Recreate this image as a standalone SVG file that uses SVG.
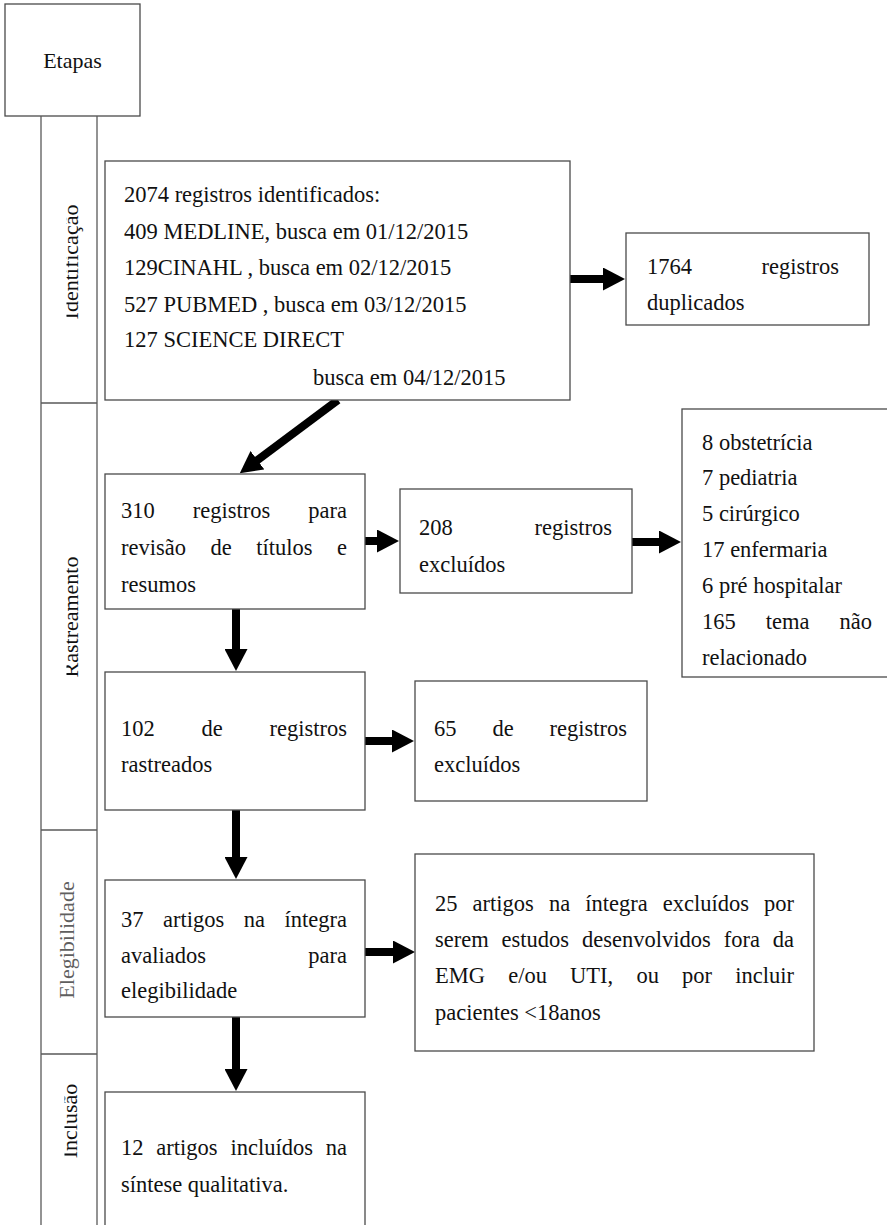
<svg xmlns="http://www.w3.org/2000/svg" width="887" height="1225" viewBox="0 0 887 1225">
<style>
.box{fill:#fff;stroke:#4a4a4a;stroke-width:1.3}
.col{fill:none;stroke:#5a5a5a;stroke-width:1.3}
.t{font-family:"Liberation Serif","Times New Roman",serif;font-size:22.5px;fill:#111}
.v{font-family:"Liberation Serif","Times New Roman",serif;font-size:22px;fill:#111}
.arr{stroke:#000;stroke-width:8;fill:none}
.e{text-anchor:end}
</style>
<defs>
<marker id="ah" viewBox="0 0 22 23" refX="1" refY="11.5" markerWidth="22" markerHeight="23" markerUnits="userSpaceOnUse" orient="auto">
<path d="M0,0 L22,11.5 L0,23 Z" fill="#000"/>
</marker>
<clipPath id="vc"><rect x="66.5" y="116" width="30" height="1109"/></clipPath>
<clipPath id="vc2"><rect x="64.5" y="116" width="32" height="1109"/></clipPath>
</defs>

<g id="etapas">
<rect class="box" x="5" y="4" width="135" height="112"/>
<text class="v" x="72.5" y="68" text-anchor="middle">Etapas</text>
</g>

<g id="stages">
<path class="col" d="M41,116 V1225 M97,116 V1225 M41,403 H97 M41,830 H97 M41,1054 H97"/>
<g clip-path="url(#vc)">
<text class="v" transform="translate(78,262) rotate(-90)" text-anchor="middle">Identificação</text>
<text class="v" transform="translate(78,617) rotate(-90)" text-anchor="middle">Rastreamento</text>
</g>
<g clip-path="url(#vc2)">
<text class="v" transform="translate(77,1121) rotate(-90)" text-anchor="middle">Inclusão</text>
</g>
<text class="v" transform="translate(73.5,940) rotate(-90)" text-anchor="middle" style="fill:#5f5f5f">Elegibilidade</text>
</g>

<g id="connectors">
<line class="arr" x1="570" y1="279" x2="604" y2="279" marker-end="url(#ah)"/>
<line class="arr" x1="338" y1="400" x2="256.6" y2="460.8" marker-end="url(#ah)"/>
<line class="arr" x1="365" y1="541" x2="378" y2="541" marker-end="url(#ah)"/>
<line class="arr" x1="632" y1="542" x2="660" y2="542" marker-end="url(#ah)"/>
<line class="arr" x1="236" y1="609" x2="236" y2="650" marker-end="url(#ah)"/>
<line class="arr" x1="365" y1="741" x2="393" y2="741" marker-end="url(#ah)"/>
<line class="arr" x1="236" y1="810" x2="236" y2="858" marker-end="url(#ah)"/>
<line class="arr" x1="365" y1="952" x2="394" y2="952" marker-end="url(#ah)"/>
<line class="arr" x1="236" y1="1017" x2="236" y2="1070" marker-end="url(#ah)"/>
</g>

<g id="n-identificados">
<rect class="box" x="105" y="161" width="465" height="239"/>
<text class="t" x="124" y="202">2074 registros identificados:</text>
<text class="t" x="124" y="239">409 MEDLINE, busca em 01/12/2015</text>
<text class="t" x="124" y="275">129CINAHL , busca em 02/12/2015</text>
<text class="t" x="124" y="312">527 PUBMED , busca em 03/12/2015</text>
<text class="t" x="124" y="347">127 SCIENCE DIRECT</text>
<text class="t" x="313" y="385">busca em 04/12/2015</text>
</g>

<g id="n-duplicados">
<rect class="box" x="626" y="233" width="243" height="92"/>
<text class="t" y="274"><tspan x="647">1764</tspan><tspan class="e" x="839">registros</tspan></text>
<text class="t" x="647" y="310">duplicados</text>
</g>

<g id="n-revisao">
<rect class="box" x="105" y="474" width="260" height="135"/>
<text class="t" y="518"><tspan x="121">310</tspan><tspan x="192.8">registros</tspan><tspan class="e" x="347">para</tspan></text>
<text class="t" y="555"><tspan x="121">revisão</tspan><tspan x="210.5">de</tspan><tspan x="256.2">títulos</tspan><tspan class="e" x="347">e</tspan></text>
<text class="t" x="121" y="592">resumos</text>
</g>

<g id="n-excluidos208">
<rect class="box" x="400" y="489" width="232" height="104"/>
<text class="t" y="535"><tspan x="419">208</tspan><tspan class="e" x="612">registros</tspan></text>
<text class="t" x="419" y="572">excluídos</text>
</g>

<g id="n-categorias">
<rect class="box" x="682" y="409" width="212" height="268"/>
<text class="t" x="702" y="450">8 obstetrícia</text>
<text class="t" x="702" y="485">7 pediatria</text>
<text class="t" x="702" y="521">5 cirúrgico</text>
<text class="t" x="702" y="557">17 enfermaria</text>
<text class="t" x="702" y="593">6 pré hospitalar</text>
<text class="t" y="629"><tspan x="702">165</tspan><tspan x="765.8">tema</tspan><tspan class="e" x="872">não</tspan></text>
<text class="t" x="702" y="665">relacionado</text>
</g>

<g id="n-rastreados">
<rect class="box" x="105" y="672" width="260" height="138"/>
<text class="t" y="736"><tspan x="121">102</tspan><tspan x="201.5">de</tspan><tspan class="e" x="347">registros</tspan></text>
<text class="t" x="121" y="772">rastreados</text>
</g>

<g id="n-excluidos65">
<rect class="box" x="415" y="681" width="232" height="120"/>
<text class="t" y="736"><tspan x="434">65</tspan><tspan x="492.4">de</tspan><tspan class="e" x="627">registros</tspan></text>
<text class="t" x="434" y="772">excluídos</text>
</g>

<g id="n-elegibilidade">
<rect class="box" x="105" y="880" width="260" height="137"/>
<text class="t" y="927"><tspan x="121">37</tspan><tspan x="163">artigos</tspan><tspan x="243.8">na</tspan><tspan class="e" x="347">íntegra</tspan></text>
<text class="t" y="963"><tspan x="121">avaliados</tspan><tspan class="e" x="347">para</tspan></text>
<text class="t" x="121" y="998">elegibilidade</text>
</g>

<g id="n-excluidos25">
<rect class="box" x="415" y="854" width="399" height="197"/>
<text class="t" y="911"><tspan x="435">25</tspan><tspan x="472.6">artigos</tspan><tspan x="548.9">na</tspan><tspan x="585.2">íntegra</tspan><tspan x="662.7">excluídos</tspan><tspan class="e" x="794">por</tspan></text>
<text class="t" y="947"><tspan x="435">serem</tspan><tspan x="501.6">estudos</tspan><tspan x="582">desenvolvidos</tspan><tspan x="723.7">fora</tspan><tspan class="e" x="794">da</tspan></text>
<text class="t" y="983"><tspan x="435">EMG</tspan><tspan x="508.2">e/ou</tspan><tspan x="570.1">UTI,</tspan><tspan x="636.4">ou</tspan><tspan x="682.1">por</tspan><tspan class="e" x="794">incluir</tspan></text>
<text class="t" x="435" y="1020">pacientes &lt;18anos</text>
</g>

<g id="n-incluidos">
<rect class="box" x="105" y="1092" width="260" height="140"/>
<text class="t" y="1155"><tspan x="121">12</tspan><tspan x="156.3">artigos</tspan><tspan x="230.4">incluídos</tspan><tspan class="e" x="347">na</tspan></text>
<text class="t" x="121" y="1192">síntese qualitativa.</text>
</g>
</svg>
